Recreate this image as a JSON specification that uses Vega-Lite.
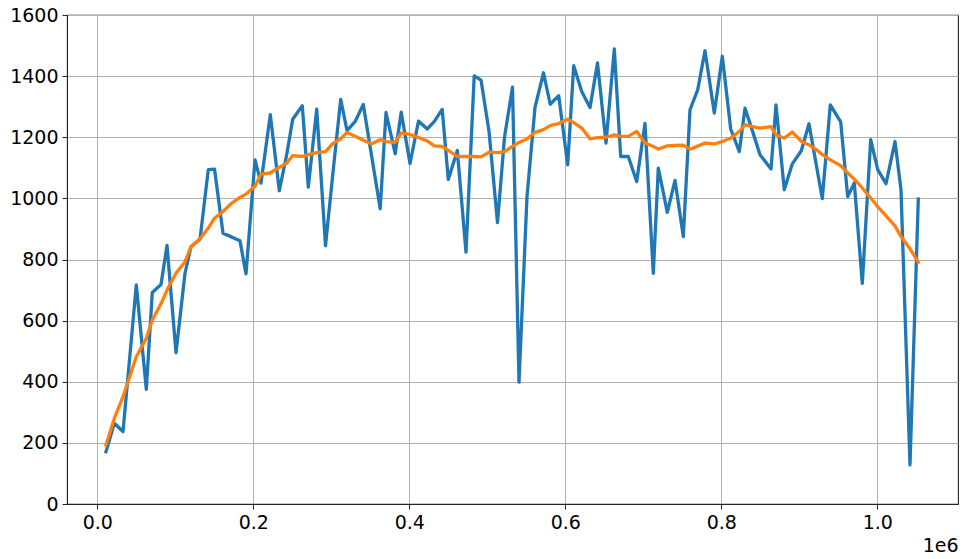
{
  "$schema": "https://vega.github.io/schema/vega-lite/v6.json",
  "width": 891,
  "height": 489,
  "autosize": {"type": "none"},
  "padding": {"left": 67, "top": 15, "right": 7, "bottom": 55},
  "background": "white",
  "config": {
    "view": {"stroke": "#222222", "strokeWidth": 1.1},
    "font": "DejaVu Sans",
    "axis": {
      "labelFont": "DejaVu Sans",
      "labelFontSize": 19,
      "labelColor": "black",
      "tickColor": "#222222",
      "tickSize": 5,
      "tickWidth": 1,
      "domainColor": "#222222",
      "gridColor": "#b0b0b0",
      "gridWidth": 1,
      "labelPadding": 4
    }
  },
  "data": {
    "values": [
      {"x": 11154, "raw": 171, "smooth": 193},
      {"x": 21795, "raw": 264, "smooth": 280},
      {"x": 32949, "raw": 237, "smooth": 351},
      {"x": 50000, "raw": 717, "smooth": 482},
      {"x": 62820, "raw": 375, "smooth": 542},
      {"x": 70510, "raw": 692, "smooth": 602},
      {"x": 81667, "raw": 718, "smooth": 655},
      {"x": 89359, "raw": 846, "smooth": 700},
      {"x": 100897, "raw": 495, "smooth": 755},
      {"x": 112436, "raw": 755, "smooth": 793},
      {"x": 120128, "raw": 842, "smooth": 842},
      {"x": 131667, "raw": 866, "smooth": 868},
      {"x": 142308, "raw": 1094, "smooth": 903},
      {"x": 150256, "raw": 1096, "smooth": 935},
      {"x": 161154, "raw": 886, "smooth": 957},
      {"x": 172051, "raw": 874, "smooth": 984},
      {"x": 182949, "raw": 861, "smooth": 1003},
      {"x": 190641, "raw": 753, "smooth": 1014},
      {"x": 202180, "raw": 1126, "smooth": 1040},
      {"x": 209872, "raw": 1050, "smooth": 1079},
      {"x": 221795, "raw": 1274, "smooth": 1083},
      {"x": 233333, "raw": 1025, "smooth": 1102},
      {"x": 242821, "raw": 1143, "smooth": 1115},
      {"x": 250513, "raw": 1259, "smooth": 1140},
      {"x": 262821, "raw": 1303, "smooth": 1137},
      {"x": 270513, "raw": 1037, "smooth": 1143},
      {"x": 281282, "raw": 1292, "smooth": 1150},
      {"x": 292564, "raw": 845, "smooth": 1153},
      {"x": 301795, "raw": 1076, "smooth": 1179},
      {"x": 312051, "raw": 1324, "smooth": 1195},
      {"x": 320128, "raw": 1222, "smooth": 1216},
      {"x": 330385, "raw": 1251, "smooth": 1203},
      {"x": 341026, "raw": 1307, "smooth": 1190},
      {"x": 351795, "raw": 1137, "smooth": 1179},
      {"x": 362692, "raw": 966, "smooth": 1192},
      {"x": 370128, "raw": 1281, "smooth": 1186},
      {"x": 381923, "raw": 1146, "smooth": 1183},
      {"x": 389615, "raw": 1282, "smooth": 1214},
      {"x": 400897, "raw": 1114, "smooth": 1209},
      {"x": 411795, "raw": 1253, "smooth": 1199},
      {"x": 422949, "raw": 1227, "smooth": 1188},
      {"x": 431923, "raw": 1251, "smooth": 1172},
      {"x": 442179, "raw": 1291, "smooth": 1170},
      {"x": 450000, "raw": 1062, "smooth": 1157},
      {"x": 461538, "raw": 1157, "smooth": 1137},
      {"x": 472692, "raw": 824, "smooth": 1137},
      {"x": 483205, "raw": 1401, "smooth": 1137},
      {"x": 491923, "raw": 1387, "smooth": 1136},
      {"x": 502179, "raw": 1220, "smooth": 1151},
      {"x": 513077, "raw": 921, "smooth": 1150},
      {"x": 522051, "raw": 1200, "smooth": 1153},
      {"x": 532308, "raw": 1364, "smooth": 1170},
      {"x": 540641, "raw": 399, "smooth": 1183},
      {"x": 550897, "raw": 1006, "smooth": 1194},
      {"x": 561154, "raw": 1298, "smooth": 1216},
      {"x": 572051, "raw": 1411, "smooth": 1225},
      {"x": 580641, "raw": 1308, "smooth": 1238},
      {"x": 591538, "raw": 1336, "smooth": 1245},
      {"x": 603077, "raw": 1110, "smooth": 1259},
      {"x": 610769, "raw": 1434, "smooth": 1248},
      {"x": 621026, "raw": 1350, "smooth": 1230},
      {"x": 631667, "raw": 1297, "smooth": 1195},
      {"x": 641282, "raw": 1443, "smooth": 1199},
      {"x": 652179, "raw": 1181, "smooth": 1200},
      {"x": 662821, "raw": 1489, "smooth": 1208},
      {"x": 671026, "raw": 1137, "smooth": 1203},
      {"x": 680769, "raw": 1137, "smooth": 1203},
      {"x": 691538, "raw": 1055, "smooth": 1219},
      {"x": 702179, "raw": 1245, "smooth": 1181},
      {"x": 712821, "raw": 755, "smooth": 1170},
      {"x": 719231, "raw": 1099, "smooth": 1161},
      {"x": 730769, "raw": 954, "smooth": 1172},
      {"x": 740641, "raw": 1059, "smooth": 1173},
      {"x": 751282, "raw": 875, "smooth": 1174},
      {"x": 759872, "raw": 1290, "smooth": 1161},
      {"x": 769744, "raw": 1355, "smooth": 1171},
      {"x": 779103, "raw": 1483, "smooth": 1181},
      {"x": 791026, "raw": 1279, "smooth": 1178},
      {"x": 801282, "raw": 1465, "smooth": 1186},
      {"x": 812051, "raw": 1227, "smooth": 1197},
      {"x": 823077, "raw": 1153, "smooth": 1219},
      {"x": 830385, "raw": 1295, "smooth": 1241},
      {"x": 840000, "raw": 1220, "smooth": 1235},
      {"x": 849615, "raw": 1143, "smooth": 1230},
      {"x": 863718, "raw": 1096, "smooth": 1235},
      {"x": 870128, "raw": 1306, "smooth": 1208},
      {"x": 880769, "raw": 1028, "smooth": 1197},
      {"x": 891026, "raw": 1113, "smooth": 1217},
      {"x": 902564, "raw": 1156, "smooth": 1187},
      {"x": 912436, "raw": 1244, "smooth": 1175},
      {"x": 922308, "raw": 1102, "smooth": 1159},
      {"x": 929487, "raw": 999, "smooth": 1143},
      {"x": 939744, "raw": 1306, "smooth": 1126},
      {"x": 953077, "raw": 1250, "smooth": 1107},
      {"x": 962051, "raw": 1006, "smooth": 1083},
      {"x": 970513, "raw": 1050, "smooth": 1063},
      {"x": 980769, "raw": 722, "smooth": 1034},
      {"x": 991538, "raw": 1192, "smooth": 1001},
      {"x": 1000513, "raw": 1094, "smooth": 973},
      {"x": 1011154, "raw": 1048, "smooth": 943},
      {"x": 1022692, "raw": 1186, "smooth": 910},
      {"x": 1030385, "raw": 1028, "smooth": 875},
      {"x": 1041923, "raw": 128, "smooth": 835},
      {"x": 1052564, "raw": 998, "smooth": 791}
    ]
  },
  "encoding": {
    "x": {
      "field": "x",
      "type": "quantitative",
      "scale": {"domain": [-38846, 1103462], "nice": false, "zero": false},
      "axis": {
        "values": [0, 200000, 400000, 600000, 800000, 1000000],
        "labelExpr": "format(datum.value / 1000000, '.1f')",
        "title": "1e6",
        "titleFont": "DejaVu Sans",
        "titleFontSize": 19,
        "titleFontWeight": "normal",
        "titleColor": "black",
        "titleAnchor": "end",
        "titleAlign": "right",
        "titlePadding": 4,
        "labelFlush": false
      }
    }
  },
  "layer": [
    {
      "mark": {"type": "line", "color": "#1f77b4", "strokeWidth": 3.3, "strokeJoin": "round", "strokeCap": "square"},
      "encoding": {
        "y": {
          "field": "raw",
          "type": "quantitative",
          "scale": {"domain": [0, 1600], "nice": false},
          "axis": {"values": [0, 200, 400, 600, 800, 1000, 1200, 1400, 1600], "format": "d", "title": null, "labelFlush": false}
        }
      }
    },
    {
      "mark": {"type": "line", "color": "#ff7f0e", "strokeWidth": 3.3, "strokeJoin": "round", "strokeCap": "square"},
      "encoding": {
        "y": {"field": "smooth", "type": "quantitative"}
      }
    }
  ]
}
